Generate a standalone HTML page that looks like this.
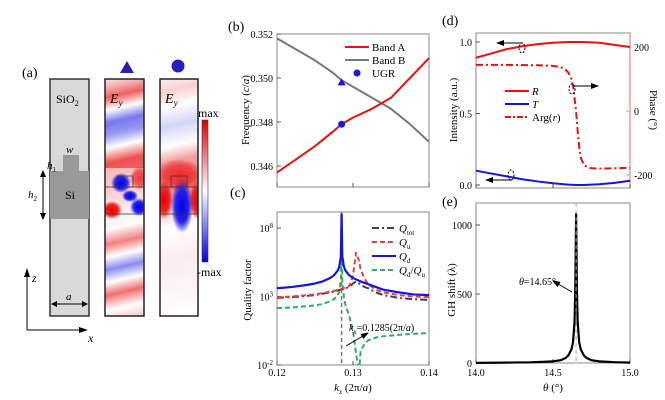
<!DOCTYPE html>
<html><head><meta charset="utf-8"><style>
html,body{margin:0;padding:0;background:#fff;}
svg{display:block;font-family:"Liberation Serif",serif;}
</style></head><body>
<svg id="fig" width="665" height="400" viewBox="0 0 665 400" xmlns="http://www.w3.org/2000/svg">
<defs>
<linearGradient id="g1" gradientUnits="userSpaceOnUse" x1="95" y1="75" x2="150" y2="316">
<stop offset="0" stop-color="#fff"/><stop offset="0.06" stop-color="#f6b0b0"/><stop offset="0.1" stop-color="#f06060"/>
<stop offset="0.15" stop-color="#fff"/><stop offset="0.2" stop-color="#7878ee"/><stop offset="0.25" stop-color="#9a9af0"/>
<stop offset="0.3" stop-color="#fff"/><stop offset="0.36" stop-color="#f05050"/><stop offset="0.45" stop-color="#f27070"/>
<stop offset="0.62" stop-color="#fff"/><stop offset="0.68" stop-color="#f28080"/><stop offset="0.73" stop-color="#fff"/>
<stop offset="0.78" stop-color="#8a8af0"/><stop offset="0.83" stop-color="#fff"/><stop offset="0.88" stop-color="#f07070"/>
<stop offset="0.94" stop-color="#fff"/><stop offset="1" stop-color="#f6c0c0"/>
</linearGradient>
<linearGradient id="g2" gradientUnits="userSpaceOnUse" x1="150" y1="75" x2="205" y2="316">
<stop offset="0" stop-color="#fff"/><stop offset="0.08" stop-color="#f8d0d0"/><stop offset="0.14" stop-color="#fff"/>
<stop offset="0.22" stop-color="#d4d4f6"/><stop offset="0.3" stop-color="#fff"/><stop offset="0.36" stop-color="#f4a0a0"/>
<stop offset="0.45" stop-color="#f08080"/><stop offset="0.62" stop-color="#fff"/><stop offset="0.75" stop-color="#faecec"/><stop offset="1" stop-color="#fff"/>
</linearGradient>
<linearGradient id="cb" x1="0" y1="0" x2="0" y2="1">
<stop offset="0" stop-color="#d00"/><stop offset="0.5" stop-color="#fff"/><stop offset="1" stop-color="#00d"/>
</linearGradient>
<radialGradient id="rb"><stop offset="0" stop-color="#00e"/><stop offset="0.6" stop-color="#22e"/><stop offset="1" stop-color="#00e" stop-opacity="0"/></radialGradient>
<radialGradient id="rr"><stop offset="0" stop-color="#e00"/><stop offset="0.6" stop-color="#e22"/><stop offset="1" stop-color="#e00" stop-opacity="0"/></radialGradient>
<marker id="ah" markerWidth="8" markerHeight="6" refX="7" refY="3" orient="auto"><path d="M0,0 L8,3 L0,6 z" fill="#000"/></marker>
<clipPath id="clipC"><rect x="277" y="212" width="152" height="153"/></clipPath>
<clipPath id="clipF1"><rect x="105" y="79" width="39" height="237"/></clipPath>
<clipPath id="clipF2"><rect x="160" y="79" width="38" height="237"/></clipPath>
</defs>

<g>
<text x="22" y="77" font-size="14">(a)</text>
<rect x="50" y="79" width="39" height="237" fill="#d8d8d8" stroke="#333" stroke-width="1.5"/>
<rect x="50" y="171" width="39" height="48" fill="#999"/>
<rect x="63" y="155" width="16" height="17" fill="#999"/>
<text x="56" y="103" font-size="12">SiO<tspan font-size="8" dy="3">2</tspan></text>
<text x="66" y="153" font-size="11" font-style="italic">w</text>
<text x="47" y="169" font-size="11" font-style="italic">h<tspan font-size="7" dy="3" font-style="normal">1</tspan></text>
<text x="28" y="198" font-size="11" font-style="italic">h<tspan font-size="7" dy="3" font-style="normal">2</tspan></text>
<text x="65" y="199" font-size="12">Si</text>
<line x1="43" y1="173" x2="43" y2="217" stroke="#000" stroke-width="1"/>
<path d="M40,177 L43,170 L46,177 z M40,213 L43,220 L46,213 z" fill="#000"/>
<line x1="53" y1="304" x2="86" y2="304" stroke="#000"/>
<path d="M57,301 L51,304 L57,307 z M82,301 L88,304 L82,307 z" fill="#000"/>
<text x="66" y="300" font-size="11" font-style="italic">a</text>
<line x1="27" y1="330" x2="27" y2="272" stroke="#000"/>
<path d="M24,277 L27,268 L30,277 z" fill="#000"/>
<line x1="27" y1="330" x2="83" y2="330" stroke="#000"/>
<path d="M79,327 L88,330 L79,333 z" fill="#000"/>
<text x="32" y="282" font-size="12" font-style="italic">z</text>
<text x="88" y="342" font-size="12" font-style="italic">x</text>

<g clip-path="url(#clipF1)">
<rect x="105" y="79" width="39" height="237" fill="url(#g1)"/>
<rect x="105" y="168" width="39" height="55" fill="#fff" opacity="0.6"/>
<ellipse cx="140" cy="178" rx="10" ry="12" fill="url(#rr)" opacity="0.7"/>
<ellipse cx="121" cy="183" rx="10" ry="10" fill="url(#rb)"/>
<ellipse cx="130" cy="196" rx="8" ry="6" fill="url(#rb)"/>
<ellipse cx="139" cy="207" rx="9" ry="9" fill="url(#rb)"/>
<ellipse cx="112" cy="210" rx="10" ry="9" fill="url(#rr)"/>
</g>
<rect x="105" y="79" width="39" height="237" fill="none" stroke="#222" stroke-width="1.5"/>
<g clip-path="url(#clipF2)">
<rect x="160" y="79" width="38" height="237" fill="url(#g2)"/>
<ellipse cx="179" cy="175" rx="24" ry="16" fill="url(#rr)" opacity="0.7"/>
<ellipse cx="164" cy="200" rx="9" ry="19" fill="url(#rr)"/>
<ellipse cx="197" cy="200" rx="8" ry="19" fill="url(#rr)"/>
<ellipse cx="182" cy="206" rx="11" ry="27" fill="url(#rb)"/>
</g>
<rect x="160" y="79" width="38" height="237" fill="none" stroke="#222" stroke-width="1.5"/>
<g stroke="#333" stroke-width="0.7" fill="none">
<line x1="105" y1="187" x2="144" y2="187"/><line x1="105" y1="214" x2="144" y2="214"/>
<rect x="117" y="176" width="16" height="11"/>
<line x1="160" y1="187" x2="198" y2="187"/><line x1="160" y1="214" x2="198" y2="214"/>
<rect x="171" y="176" width="16" height="11"/>
</g>
<text x="110" y="103" font-size="14" font-style="italic">E<tspan font-size="9" dy="3">y</tspan></text>
<text x="165" y="103" font-size="14" font-style="italic">E<tspan font-size="9" dy="3">y</tspan></text>
<path d="M120,73 L127,61 L134,73 z" fill="#2222bb"/>
<circle cx="178" cy="66" r="6.5" fill="#2222bb"/>
<rect x="202" y="120" width="6" height="142" fill="url(#cb)" stroke="#335" stroke-width="0.6"/>
<text x="198" y="117" font-size="12">max</text>
<text x="197" y="276" font-size="12">-max</text>
</g>

<g id="charts"></g>
</svg>
<script>
// ---- Panel b data ----
const kxB = [0.12,0.1225,0.125,0.1275,0.1285,0.13,0.1325,0.135,0.1375,0.14];
const bandA = [0.3457,0.3463,0.3469,0.3476,0.3479,0.3482,0.3486,0.3491,0.3500,0.3509];
const bandB = [0.3518,0.3513,0.3508,0.3502,0.3499,0.3496,0.3491,0.3486,0.3479,0.3471];
const ugrK = [0.1285];
const ugrCircle = [0.3479];
const ugrTriangle = [0.3498];
const bYTicks = [0.346,0.348,0.350,0.352];
const kxTicks = [0.12,0.13,0.14];
// ---- Panel c data (log10 Q) ----
const kxC = [0.12,0.122,0.124,0.125,0.126,0.127,0.1275,0.128,0.1282,0.1284,0.1285,0.1286,0.1288,0.129,0.1295,0.13,0.1304,0.1308,0.131,0.1315,0.132,0.133,0.134,0.136,0.138,0.14];
const logQd = [3.6,3.7,3.85,3.95,4.1,4.35,4.55,4.9,5.2,5.9,9,5.9,5.2,4.9,4.55,4.35,4.25,4.15,4.1,4.0,3.9,3.7,3.5,3.3,3.15,3.1];
const logQu = [2.95,3.0,3.1,3.15,3.25,3.35,3.4,3.5,3.52,3.55,3.57,3.6,3.62,3.65,3.75,4.5,6.2,5.6,5.0,4.3,3.9,3.5,3.3,3.1,3.0,2.95];
const logQtot = [2.9,2.95,3.05,3.1,3.2,3.3,3.35,3.45,3.47,3.5,3.52,3.55,3.58,3.6,3.7,3.95,4.1,3.95,3.85,3.7,3.6,3.3,3.1,2.9,2.8,2.75];
const logRatio = [2.15,2.2,2.3,2.35,2.45,2.65,2.8,3.1,3.4,4.2,9,4.0,3.0,2.4,1.6,0.5,-1.2,-2.5,-1.0,-0.5,-0.2,0.0,0.1,0.2,0.28,0.33];
const cYTicks = [-2,3,8];
// ---- Panel d data ----
const thD = [14.0,14.1,14.2,14.3,14.4,14.5,14.6,14.65,14.7,14.8,14.9,15.0];
const Rvals = [0.89,0.92,0.95,0.97,0.985,0.995,1.0,1.0,1.0,0.995,0.98,0.965];
const Tvals = [0.1,0.08,0.06,0.04,0.025,0.012,0.003,0,0,0.005,0.015,0.03];
const thP = [14.0,14.2,14.4,14.5,14.55,14.58,14.6,14.62,14.63,14.64,14.65,14.66,14.67,14.68,14.7,14.72,14.75,14.8,15.0];
const phase = [144,144,143,141,137,130,120,100,80,40,0,-60,-110,-145,-168,-175,-179,-180,-178];
const dLTicks = [0.0,0.5,1.0];
const dRTicks = [-200,0,200];
// ---- Panel e data ----
const thE = [14.0,14.2,14.35,14.45,14.5,14.55,14.58,14.6,14.62,14.63,14.64,14.645,14.65,14.655,14.66,14.67,14.68,14.7,14.72,14.75,14.8,14.9,15.0];
const gh = [1,3,5,9,12,20,35,55,100,150,300,550,1080,550,300,150,100,55,35,20,12,6,3];
const eYTicks = [0,500,1000];
const thTicks = [14.0,14.5,15.0];

const NS = "http://www.w3.org/2000/svg";
const root = document.getElementById('charts');
function mk(tag, attrs, parent){const e=document.createElementNS(NS,tag);for(const k in attrs)e.setAttribute(k,attrs[k]);(parent||root).appendChild(e);return e;}
function pts(xs,ys,fx,fy){return xs.map((x,i)=>fx(x).toFixed(2)+','+fy(ys[i]).toFixed(2)).join(' ');}

const xK = k => 277 + (k-0.12)/0.02*152;
const yB = f => 34 + (0.352-f)/0.002*44;
const yC = l => 365 - (l+2)*13.7;
const xT = t => 476 + (t-14)*154;
const yDl = v => 185 - v*143;
const yDr = p => 111 - p*0.32;
const yE = g => 363 - g*0.138;

function txt(x,y,s,size,anchor,name){const t=mk('text',{x:x,y:y,'font-size':size,'text-anchor':anchor||'start'});t.textContent=s;


return t;}

// ===== Panel b =====
txt(228,31,'(b)',14,'start','panel-b-label');
let fr = mk('rect',{x:277,y:34,width:152,height:153,fill:'none',stroke:'#888','stroke-width':1});


bYTicks.forEach(v=>{mk('line',{x1:277,y1:yB(v),x2:281,y2:yB(v),stroke:'#555'});
 txt(273,yB(v)+4,v.toFixed(3),10,'end','b-y-tick-label');});
kxTicks.forEach(v=>{mk('line',{x1:xK(v),y1:187,x2:xK(v),y2:183,stroke:'#555'});});
let t1 = txt(0,0,'',11,'middle','b-y-axis-title');
t1.setAttribute('transform','translate(249,110) rotate(-90)');
t1.innerHTML='Frequency (<tspan font-style="italic">c</tspan>/<tspan font-style="italic">a</tspan>)';
let lB = mk('polyline',{points:pts(kxB,bandB,xK,yB),fill:'none',stroke:'#777','stroke-width':2,'stroke-linejoin':'round'});


let lA = mk('polyline',{points:pts(kxB,bandA,xK,yB),fill:'none',stroke:'#e81010','stroke-width':2,'stroke-linejoin':'round'});


ugrK.forEach((k,i)=>{
 let c = mk('circle',{cx:xK(k),cy:yB(ugrCircle[i]),r:3.5,fill:'#1515ee'});
 
 
 let x=xK(k),y=yB(ugrTriangle[i]);
 let tr = mk('path',{d:`M${x-4},${y+3} L${x},${y-4} L${x+4},${y+3} z`,fill:'#1515ee'});
 
 
});
mk('line',{x1:345,y1:47,x2:369,y2:47,stroke:'#e81010','stroke-width':2});
txt(372,51,'Band A',11,'start','legend-band-a');
mk('line',{x1:345,y1:60,x2:369,y2:60,stroke:'#777','stroke-width':2});
txt(372,64,'Band B',11,'start','legend-band-b');
mk('circle',{cx:357,cy:73,r:3.5,fill:'#1515ee'});
txt(372,77,'UGR',11,'start','legend-ugr');

// ===== Panel c =====
txt(230,197,'(c)',14,'start','panel-c-label');
let fc = mk('rect',{x:277,y:212,width:152,height:153,fill:'none',stroke:'#888'});


cYTicks.forEach(v=>{mk('line',{x1:277,y1:yC(v),x2:281,y2:yC(v),stroke:'#555'});
 let t=txt(273,yC(v)+4,'',10,'end','c-y-tick-label'); t.innerHTML='10<tspan font-size="7" dy="-4">'+v+'</tspan>';});
kxTicks.forEach(v=>{mk('line',{x1:xK(v),y1:365,x2:xK(v),y2:361,stroke:'#555'});
 txt(xK(v),376,String(v),10,'middle','c-x-tick-label');});
let t2 = txt(0,0,'Quality factor',11,'middle','c-y-axis-title');
t2.setAttribute('transform','translate(251,290) rotate(-90)');
let t3 = txt(353,391,'',11,'middle','c-x-axis-title');
t3.innerHTML='<tspan font-style="italic">k</tspan><tspan font-size="7" dy="3" font-style="italic">x</tspan><tspan dy="-3"> (2π/</tspan><tspan font-style="italic">a</tspan>)';
const gc = mk('g',{'clip-path':'url(#clipC)'});
mk('line',{x1:xK(0.1285),y1:212,x2:xK(0.1285),y2:365,stroke:'#777','stroke-width':1.5,'stroke-dasharray':'4,3'},gc);
function series(ys,color,dash,name,w){let p=mk('polyline',{points:pts(kxC,ys,xK,yC),fill:'none',stroke:color,'stroke-width':w||2,'stroke-dasharray':dash,'stroke-linejoin':'round'},gc);
 
 }
series(logRatio,'#33aa66','5,3','qd-qu-ratio-line');
series(logQtot,'#444','7,3,2,3','q-tot-line');
series(logQu,'#e84040','5,3','q-u-line');
series(logQd,'#1515dd','none','q-d-line',2.2);
mk('line',{x1:346,y1:346,x2:368,y2:333,stroke:'#000','stroke-width':1,'marker-end':'url(#ah)'});
let ka=txt(349,331,'',10,'start','kx-annotation');
ka.innerHTML='<tspan font-style="italic">k</tspan><tspan font-size="7" dy="3" font-style="italic">x</tspan><tspan dy="-3">=0.1285(2π/</tspan><tspan font-style="italic">a</tspan>)';
const legC=[['#444','7,3,2,3','tot'],['#e84040','5,3','u'],['#1515dd','none','d'],['#33aa66','5,3','d/Q']];
legC.forEach((l,i)=>{let y=228+i*14;mk('line',{x1:372,y1:y,x2:396,y2:y,stroke:l[0],'stroke-width':2,'stroke-dasharray':l[1]});
 let t=txt(399,y+4,'',11,'start','legend-q-'+i);
 if(i<3) t.innerHTML='<tspan font-style="italic">Q</tspan><tspan font-size="7" dy="3">'+l[2]+'</tspan>';
 else t.innerHTML='<tspan font-style="italic">Q</tspan><tspan font-size="7" dy="3">d</tspan><tspan dy="-3">/</tspan><tspan font-style="italic">Q</tspan><tspan font-size="7" dy="3">u</tspan>';});

// ===== Panel d =====
txt(442,25,'(d)',14,'start','panel-d-label');
let fd = mk('rect',{x:476,y:33,width:154,height:155,fill:'none',stroke:'#888'});


mk('line',{x1:630,y1:33,x2:630,y2:188,stroke:'#f08080','stroke-width':1.2});
dLTicks.forEach(v=>{mk('line',{x1:476,y1:yDl(v),x2:480,y2:yDl(v),stroke:'#555'});
 txt(472,yDl(v)+4,v.toFixed(1),10,'end','d-left-tick-label');});
dRTicks.forEach(v=>{mk('line',{x1:630,y1:yDr(v),x2:626,y2:yDr(v),stroke:'#e88'});
 txt(634,yDr(v)+4,String(v),10,'start','d-right-tick-label');});
thTicks.forEach(v=>{mk('line',{x1:xT(v),y1:188,x2:xT(v),y2:184,stroke:'#555'});});
let t4=txt(0,0,'Intensity (a.u.)',11,'middle','d-left-axis-title');
t4.setAttribute('transform','translate(457,110) rotate(-90)');
let t5=txt(0,0,'Phase (°)',11,'middle','d-right-axis-title');
t5.setAttribute('transform','translate(650,110) rotate(90)');
let pr=mk('polyline',{points:pts(thD,Rvals,xT,yDl),fill:'none',stroke:'#e81010','stroke-width':2,'stroke-linejoin':'round'});


let pt=mk('polyline',{points:pts(thD,Tvals,xT,yDl),fill:'none',stroke:'#1515dd','stroke-width':2,'stroke-linejoin':'round'});


let pp=mk('polyline',{points:pts(thP,phase,xT,yDr),fill:'none',stroke:'#e81010','stroke-width':2,'stroke-dasharray':'7,3,2,3','stroke-linejoin':'round'});


[[522,48,497,43],[511,175,486,180]].forEach(a=>{mk('ellipse',{cx:a[0],cy:a[1],rx:3,ry:5,fill:'none',stroke:'#000','stroke-dasharray':'2,1.5'});
 mk('line',{x1:a[0]+1,y1:a[3],x2:a[2],y2:a[3],stroke:'#000','marker-end':'url(#ah)'});});
mk('ellipse',{cx:572,cy:89,rx:3,ry:5,fill:'none',stroke:'#000','stroke-dasharray':'2,1.5'});
mk('line',{x1:573,y1:86,x2:598,y2:86,stroke:'#000','marker-end':'url(#ah)'});
mk('line',{x1:505,y1:91,x2:529,y2:91,stroke:'#e81010','stroke-width':2});
let lr=txt(532,95,'R',11,'start','legend-r'); lr.setAttribute('font-style','italic');
mk('line',{x1:505,y1:104,x2:529,y2:104,stroke:'#1515dd','stroke-width':2});
let lt=txt(532,108,'T',11,'start','legend-t'); lt.setAttribute('font-style','italic');
mk('line',{x1:505,y1:117,x2:529,y2:117,stroke:'#e81010','stroke-width':2,'stroke-dasharray':'6,2,2,2'});
let lg=txt(532,121,'',11,'start','legend-arg'); lg.innerHTML='Arg(<tspan font-style="italic">r</tspan>)';

// ===== Panel e =====
txt(442,206,'(e)',14,'start','panel-e-label');
let fe = mk('rect',{x:476,y:203,width:154,height:160,fill:'none',stroke:'#888'});


eYTicks.forEach(v=>{mk('line',{x1:476,y1:yE(v),x2:480,y2:yE(v),stroke:'#555'});
 txt(472,yE(v)+4,String(v),10,'end','e-y-tick-label');});
thTicks.forEach(v=>{mk('line',{x1:xT(v),y1:363,x2:xT(v),y2:359,stroke:'#555'});
 txt(xT(v),376,v.toFixed(1),10,'middle','e-x-tick-label');});
let t6=txt(0,0,'GH shift (λ)',11,'middle','e-y-axis-title');
t6.setAttribute('transform','translate(455,290) rotate(-90)');
let t7=txt(553,391,'',11,'middle','e-x-axis-title'); t7.innerHTML='<tspan font-style="italic">θ</tspan> (°)';
let pg=mk('polyline',{points:pts(thE,gh,xT,yE),fill:'none',stroke:'#000','stroke-width':2.2,'stroke-linejoin':'round'});


mk('line',{x1:xT(14.65),y1:203,x2:xT(14.65),y2:363,stroke:'#aaa','stroke-width':1,'stroke-dasharray':'4,3'});
mk('line',{x1:572,y1:292,x2:553,y2:281,stroke:'#000','marker-end':'url(#ah)'});
let ta=txt(519,285,'',10,'start','theta-annotation'); ta.innerHTML='<tspan font-style="italic">θ</tspan>=14.65°';
</script>
</body></html>
